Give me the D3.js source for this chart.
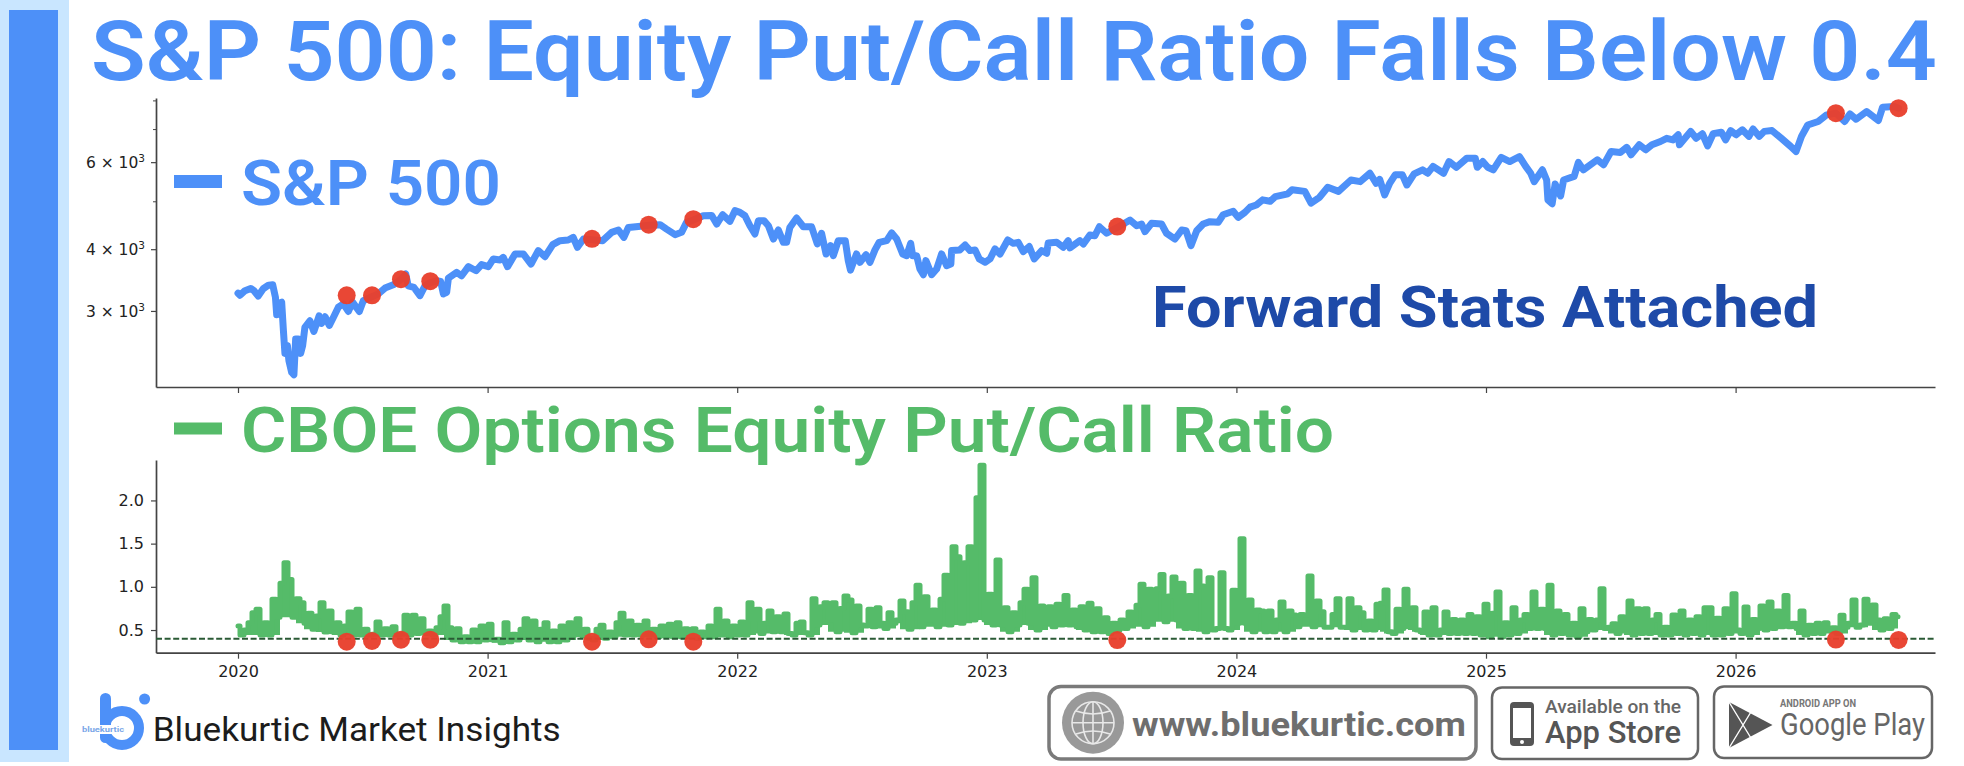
<!DOCTYPE html>
<html><head><meta charset="utf-8">
<script src="https://cdn.jsdelivr.net/npm/d3@7"></script>
<style>html,body{margin:0;padding:0;background:#fff}svg{display:block}</style>
</head><body><div id="chart"></div>
<script>
// ---------- DATA ----------
const title = "S&P 500: Equity Put/Call Ratio Falls Below 0.4";
const spxLabel = "S&P 500";
const ratioLabel = "CBOE Options Equity Put/Call Ratio";
const noteLabel = "Forward Stats Attached";
const threshold = 0.4;
const yearTicks = [2020,2021,2022,2023,2024,2025,2026];
const spxMajorTicks = [3000,4000,6000];
const spxMinorTicks = [5000,7000,8000];
const ratioTicks = [0.5,1.0,1.5,2.0];
// S&P 500: years since 2020 and index level
const spxYears = [0,.008,.028,.051,.064,.081,.101,.122,.139,.150,.155,.166,.175,.182,.188,.198,.204,.215,.224,.231,.242,.251,.259,.268,.288,.304,.325,.335,.349,.366,.382,.402,.422,.442,.459,.486,.502,.536,.562,.589,.622,.649,.672,.682,.705,.729,.749,.771,.796,.812,.823,.836,.843,.876,.896,.923,.954,.976,1.003,1.023,1.050,1.063,1.080,1.110,1.143,1.174,1.203,1.230,1.261,1.290,1.323,1.343,1.360,1.384,1.418,1.461,1.497,1.524,1.546,1.564,1.604,1.645,1.691,1.717,1.751,1.777,1.797,1.824,1.864,1.898,1.918,1.942,1.971,1.991,
2.011,2.031,2.051,2.071,2.085,2.107,2.125,2.145,2.165,2.185,2.198,2.211,2.238,2.265,2.298,2.321,2.338,2.356,2.374,2.385,2.405,2.433,2.445,2.454,2.478,2.492,2.516,2.532,2.552,2.569,2.599,2.619,2.639,2.663,2.679,2.695,2.703,2.719,2.732,2.746,2.756,2.779,2.799,2.819,2.839,2.856,2.859,2.892,2.913,2.933,2.953,2.970,2.993,3.013,3.033,3.053,3.084,3.106,3.126,3.146,3.170,3.190,3.220,3.240,3.246,3.280,3.306,3.326,3.333,3.373,3.387,3.413,3.433,3.451,3.480,3.523,3.574,3.600,3.620,3.634,3.660,3.700,3.720,3.754,3.781,3.798,3.818,3.841,3.867,3.894,3.927,3.947,3.987,4.007,4.034,
4.055,4.080,4.105,4.135,4.156,4.206,4.223,4.274,4.299,4.333,4.366,4.409,4.459,4.496,4.535,4.560,4.574,4.594,4.614,4.636,4.665,4.683,4.712,4.746,4.766,4.788,4.830,4.852,4.881,4.923,4.957,4.965,4.987,5.007,5.029,5.061,5.095,5.134,5.159,5.179,5.193,5.226,5.243,5.248,5.265,5.277,5.299,5.311,5.353,5.370,5.390,5.446,5.471,5.501,5.538,5.564,5.581,5.614,5.640,5.665,5.699,5.724,5.749,5.770,5.775,5.820,5.842,5.867,5.888,5.910,5.943,5.960,5.980,6.002,6.027,6.053,6.070,6.095,6.115,6.146,6.183,6.221,6.242,6.264,6.289,6.331,6.365,6.402,6.437,6.458,6.483,6.525,6.572,6.589,6.635,6.653];
const spxValues = [3257,3227,3297,3332,3297,3217,3327,3383,3388,3196,2946,3110,3125,2735,2462,2552,2379,2253,2229,2632,2632,2462,2552,2779,2866,2727,2933,2830,2920,2805,2910,3053,3101,2993,3125,2993,3146,3206,3247,3337,3388,3464,3562,3372,3347,3222,3372,3425,3452,3441,3247,3271,3497,3590,3534,3687,3618,3722,3687,3822,3804,3851,3687,3912,3912,3733,3974,3863,4085,4162,4175,4226,4036,4194,4181,4162,4327,4374,4226,4427,4448,4470,4484,4392,4280,4327,4533,4581,4675,4682,4498,4697,4554,4786,
4748,4675,4462,4294,4568,4568,4462,4194,4374,4130,4130,4427,4625,4441,4441,4098,4308,3912,4067,3881,4162,4162,3792,3629,3912,3763,3899,3763,3987,4130,4162,4314,4194,3912,3881,4110,3881,3881,3647,3551,3792,3551,3647,3912,3705,3733,3974,3987,4079,3974,3987,3822,3763,3822,4005,3912,4175,4110,4130,3954,4049,3822,3974,3925,4117,4130,4036,4162,4024,4162,4098,4273,4259,4441,4308,4427,4581,4462,4498,4340,4512,4498,4308,4194,4374,4360,4067,4360,4498,4547,4533,4697,4772,4639,4748,
4866,4916,5034,5000,5110,5177,5278,5236,4958,5093,5337,5236,5521,5479,5698,5437,5538,5152,5437,5656,5656,5395,5681,5790,5698,5883,5698,6017,5858,6110,6110,5858,6017,5858,5790,6135,6017,6160,5883,5698,5479,5790,5521,5034,4942,5421,5126,5521,5614,5992,5790,6068,5925,6303,6278,6429,6211,6505,6355,6505,6606,6706,6656,6816,6505,6925,6706,6849,6471,6849,6900,6656,6950,6816,6975,6765,7001,6765,6925,6950,6706,6454,6303,6765,7135,7253,7480,7538,7253,7513,7328,7597,7286,7752,7775,7715];
// Put/call ratio, sampled at a regular spacing starting at 2020
const ratioSpacing = 4/249.6;
const ratioValues = [.546,.442,.50,.585,.701,.739,.442,.585,.442,.855,.647,1.04,1.279,1.086,.647,.863,.816,.577,.693,.508,.662,.816,.477,.72,.477,.585,.442,.546,.708,.442,.739,.442,.508,.442,.45,.593,.442,.515,.442,.539,.442,.45,.67,.442,.67,.461,.631,.461,.488,.442,.527,.654,.778,.527,.384,.515,.365,.423,.365,.50,.365,.546,.384,.566,.384,.392,.353,.585,.365,.45,.384,.508,.631,.384,.604,.365,.508,.585,.365,.488,.365,.546,.384,.585,.442,.631,.442,.508,.404,.384,.508,.554,.404,.477,.423,.585,.693,.442,.604,.442,.554,.442,.604,.442,.508,.423,.546,.43,.566,.423,.585,.423,.515,.423,.515,.404,.477,.423,.546,.423,.739,.442,.604,.423,.546,.442,.593,.442,.816,
.623,.739,.461,.577,.72,.48,.654,.48,.685,.461,.442,.577,.593,.469,.442,.863,.558,.77,.816,.616,.816,.48,.75,.894,.847,.469,.778,.558,.546,.739,.539,.758,.577,.519,.70,.577,.616,.836,.712,.508,.816,1.017,.539,.886,.616,.731,.539,.855,1.133,.558,1.465,1.349,.577,1.279,1.465,.616,2.032,2.406,.616,.913,.558,1.31,.558,.758,.48,.70,.558,.816,.971,.577,1.106,.5,.778,.577,.77,.539,.797,.558,.90,.558,.731,.539,.77,.50,.809,.48,.747,.48,.643,.461,.577,.50,.616,.519,.708,.577,.786,1.029,.539,.971,.635,.978,1.144,.596,.894,1.113,.616,1.04,.519,.90,.519,1.183,1.009,.48,1.106,.5,.519,1.164,.519,.5,.959,.577,1.557,.577,.847,.48,.731,
.72,.481,.72,.481,.616,.824,.481,.72,.674,.539,.681,.674,1.125,.539,.836,.712,.531,.531,.681,.863,.531,.531,.863,.5,.758,.70,.5,.604,.5,.797,.809,.963,.481,.461,.739,.519,.971,.539,.758,.5,.481,.708,.442,.758,.442,.5,.708,.461,.623,.461,.616,.461,.681,.461,.654,.442,.797,.423,.693,.94,.423,.585,.442,.758,.461,.616,.681,.519,.94,.519,.739,.519,1.017,.442,.72,.461,.681,.442,.577,.423,.747,.481,.623,.5,.616,.978,.519,.531,.573,.461,.654,.519,.836,.442,.747,.461,.747,.461,.616,.681,.442,.531,.442,.674,.461,.72,.442,.616,.461,.654,.442,.758,.758,.442,.635,.442,.747,.461,.921,.5,.461,.766,.442,.623,.519,.778,.5,.824,.519,.72,.539,.901,.539,.577,.519,.72,.442,.554,.461,.577,.461,.585,.5,.527,.461,.67,.531,.577,.847,.531,.558,.855,.577,.789,.616,.5,.631,.519,.681,.654];
// Days the ratio fell below the threshold
const signalYears = [.4355,.5369,.653,.7704,1.4183,1.6454,1.8241,3.5228,6.4018,6.653];
const signalSpx = [3227,3227,3478,3446,4197,4485,4600,4444,7538,7717];
const signalRatio = [.365,.373,.388,.388,.365,.392,.365,.384,.39,.385];

// ---------- STYLE ----------
const W=1964,H=766;
const BLUE="#4d90f8",GREEN="#55bb69",NAVY="#1e4aa8",RED="#e8402d",AXIS="#444";
const BODY="Roboto,sans-serif",TICK="'DejaVu Sans',sans-serif";
const svg=d3.select("#chart").append("svg").attr("width",W).attr("height",H);
svg.append("rect").attr("width",W).attr("height",H).attr("fill","#fff");
svg.append("rect").attr("x",0).attr("y",0).attr("width",69).attr("height",762).attr("fill","#c9e6ff");
svg.append("rect").attr("x",9).attr("y",10).attr("width",49).attr("height",740).attr("fill",BLUE);

function label(x,y,t,size,weight,color,len,font){
  const s=svg.append("text").attr("x",x).attr("y",y).text(t).attr("font-family",font||BODY)
   .attr("font-size",size).attr("font-weight",weight).attr("fill",color);
  if(len) s.attr("textLength",len).attr("lengthAdjust","spacingAndGlyphs");
  return s;
}
label(91,80,title,84,600,BLUE,1846);
label(241,205,spxLabel,63,600,BLUE,260);
label(241,451.7,ratioLabel,63,600,GREEN,1093);
label(1152,326.7,noteLabel,57,700,NAVY,666);
svg.append("rect").attr("x",174).attr("y",175).attr("width",48).attr("height",13).attr("fill",BLUE);
svg.append("rect").attr("x",174).attr("y",422.5).attr("width",48).attr("height",12).attr("fill",GREEN);

// ---------- SCALES ----------
const xL=156,xR=1935;
const x=d3.scaleLinear().domain([-82/249.6,1697/249.6]).range([xL,xR]);
const yS=d3.scaleLog().domain([2105,8090]).range([387,98]);
const yR=d3.scaleLinear().domain([.2375,2.468]).range([652.7,460]);

// ---------- TOP PANEL ----------
function style(g){
  g.selectAll(".domain").attr("stroke",AXIS).attr("stroke-width",1.7);
  g.selectAll(".tick line").attr("stroke",AXIS).attr("stroke-width",1.2);
  g.selectAll("text").attr("font-family",TICK).attr("font-size",16).attr("fill","#222");
}
const yrOff=yearTicks.map(d=>d-2020);
const gx1=svg.append("g").attr("transform","translate(0,387)")
  .call(d3.axisBottom(x).tickValues(yrOff).tickFormat("").tickSize(6).tickSizeOuter(0));style(gx1);
const gy1=svg.append("g").attr("transform",`translate(${xL},0)`)
  .call(d3.axisLeft(yS).tickValues(spxMajorTicks).tickSize(5).tickSizeOuter(0)
  .tickFormat(()=>""));style(gy1);
gy1.selectAll(".tick").each(function(d){
  const t=d3.select(this).select("text").attr("dx",-3).attr("dy",5.5).attr("font-size",15.5);
  t.text(null);
  t.append("tspan").text(`${d/1000} × 10`);
  t.append("tspan").text("3").attr("font-size",10.5).attr("dy",-6);
});
svg.append("g").attr("transform",`translate(${xL},0)`)
  .call(d3.axisLeft(yS).tickValues(spxMinorTicks).tickSize(3).tickFormat("").tickSizeOuter(0))
  .call(g=>{g.select(".domain").remove();g.selectAll(".tick line").attr("stroke",AXIS).attr("stroke-width",1);});

const spxLine=d3.line().x((d,i)=>x(spxYears[i])).y(d=>yS(d));
svg.append("path").attr("d",spxLine(spxValues)).attr("fill","none").attr("stroke",BLUE)
  .attr("stroke-width",7).attr("stroke-linejoin","round").attr("stroke-linecap","round");
svg.append("g").selectAll("circle").data(signalYears).join("circle")
  .attr("cx",d=>x(d)).attr("cy",(d,i)=>yS(signalSpx[i])).attr("r",9).attr("fill",RED).attr("opacity",.96);

// ---------- BOTTOM PANEL ----------
const gx2=svg.append("g").attr("transform","translate(0,652.7)")
  .call(d3.axisBottom(x).tickValues(yrOff).tickFormat(d=>String(d+2020)).tickSize(6).tickSizeOuter(0));style(gx2);
gx2.selectAll("text").attr("dy",null).attr("y",24);
const gy2=svg.append("g").attr("transform",`translate(${xL},0)`)
  .call(d3.axisLeft(yR).tickValues(ratioTicks).tickFormat(d3.format(".1f")).tickSize(5).tickSizeOuter(0));style(gy2);
gy2.selectAll("text").attr("x",-12);

// The daily series is so dense in the reference that it reads as a solid band:
// each sample is filled down to the lowest of its nearest neighbours.
const localFloor=(i)=>d3.min(ratioValues.slice(Math.max(0,i-2),i+3));
const ratioArea=d3.area().curve(d3.curveStep).x((d,i)=>x(i*ratioSpacing)).y1(d=>yR(d)).y0((d,i)=>yR(localFloor(i)));
svg.append("path").attr("d",ratioArea(ratioValues)).attr("fill",GREEN);
const ratioLine=d3.line().curve(d3.curveStep).x((d,i)=>x(i*ratioSpacing)).y(d=>yR(d));
svg.append("path").attr("d",ratioLine(ratioValues)).attr("fill","none").attr("stroke",GREEN)
  .attr("stroke-width",5).attr("stroke-linejoin","round").attr("stroke-linecap","round");
svg.append("line").attr("x1",xL).attr("x2",xR).attr("y1",yR(threshold)).attr("y2",yR(threshold))
  .attr("stroke","#2a5a35").attr("stroke-width",2).attr("stroke-dasharray","6 2.6");
svg.append("g").selectAll("circle").data(signalYears).join("circle")
  .attr("cx",d=>x(d)).attr("cy",(d,i)=>yR(signalRatio[i])).attr("r",9).attr("fill",RED).attr("opacity",.96);

// ---------- FOOTER: LOGO + BADGES ----------
svg.append("circle").attr("cx",122).attr("cy",728).attr("r",17).attr("fill","none").attr("stroke",BLUE).attr("stroke-width",10);
svg.append("rect").attr("x",100).attr("y",693).attr("width",11).attr("height",50).attr("rx",5.5).attr("fill",BLUE);
svg.append("circle").attr("cx",144.6).attr("cy",699).attr("r",5.5).attr("fill",BLUE);
svg.append("rect").attr("x",82).attr("y",725).attr("width",44).attr("height",9).attr("fill","#fff");
label(82,732,"bluekurtic",7.5,700,"#7ba7e8",42);
label(152.7,740.7,"Bluekurtic Market Insights",34,400,"#1c1c1c",408);

function badge(x0,y0,x1,y1,r,sw,c){svg.append("rect").attr("x",x0).attr("y",y0).attr("width",x1-x0).attr("height",y1-y0).attr("rx",r).attr("fill","#fff").attr("stroke",c).attr("stroke-width",sw);}
badge(1049,686.5,1476,759,12,3.5,"#7a7a7a");
svg.append("circle").attr("cx",1093).attr("cy",722.7).attr("r",31).attr("fill","#999");
const gl=svg.append("g").attr("fill","none").attr("stroke","#e8e8e8").attr("stroke-width",1.6);
gl.append("circle").attr("cx",1093).attr("cy",722.7).attr("r",21);
gl.append("ellipse").attr("cx",1093).attr("cy",722.7).attr("rx",10).attr("ry",21);
gl.append("line").attr("x1",1093).attr("x2",1093).attr("y1",701.7).attr("y2",743.7);
gl.append("line").attr("x1",1072).attr("x2",1114).attr("y1",722.7).attr("y2",722.7);
gl.append("path").attr("d","M1076 711 Q1093 717 1110 711 M1076 734 Q1093 728 1110 734");
label(1132,736,"www.bluekurtic.com",33,700,"#6e6e6e",334);

badge(1492,687.5,1698,759,10,2.5,"#666");
svg.append("rect").attr("x",1510).attr("y",702).attr("width",24).attr("height",44).attr("rx",4).attr("fill","#555");
svg.append("rect").attr("x",1513).attr("y",708).attr("width",18).attr("height",30).attr("fill","#fff");
svg.append("circle").attr("cx",1522).attr("cy",742).attr("r",2).attr("fill","#fff");
label(1545,713,"Available on the",18,500,"#666",136);
label(1545,743,"App Store",31,500,"#555",136);

badge(1714,686.5,1932,758,10,2.5,"#666");
svg.append("path").attr("d","M1729 702 L1772.5 725 L1729 748 Z").attr("fill","#555");
svg.append("path").attr("d","M1729 702 L1757 748 M1729 748 L1757 702").attr("stroke","#fff").attr("stroke-width",1.4).attr("fill","none");
label(1780,706.7,"ANDROID APP ON",11,700,"#777",76);
label(1780,735,"Google Play",31,400,"#666",145);
</script></body></html>
